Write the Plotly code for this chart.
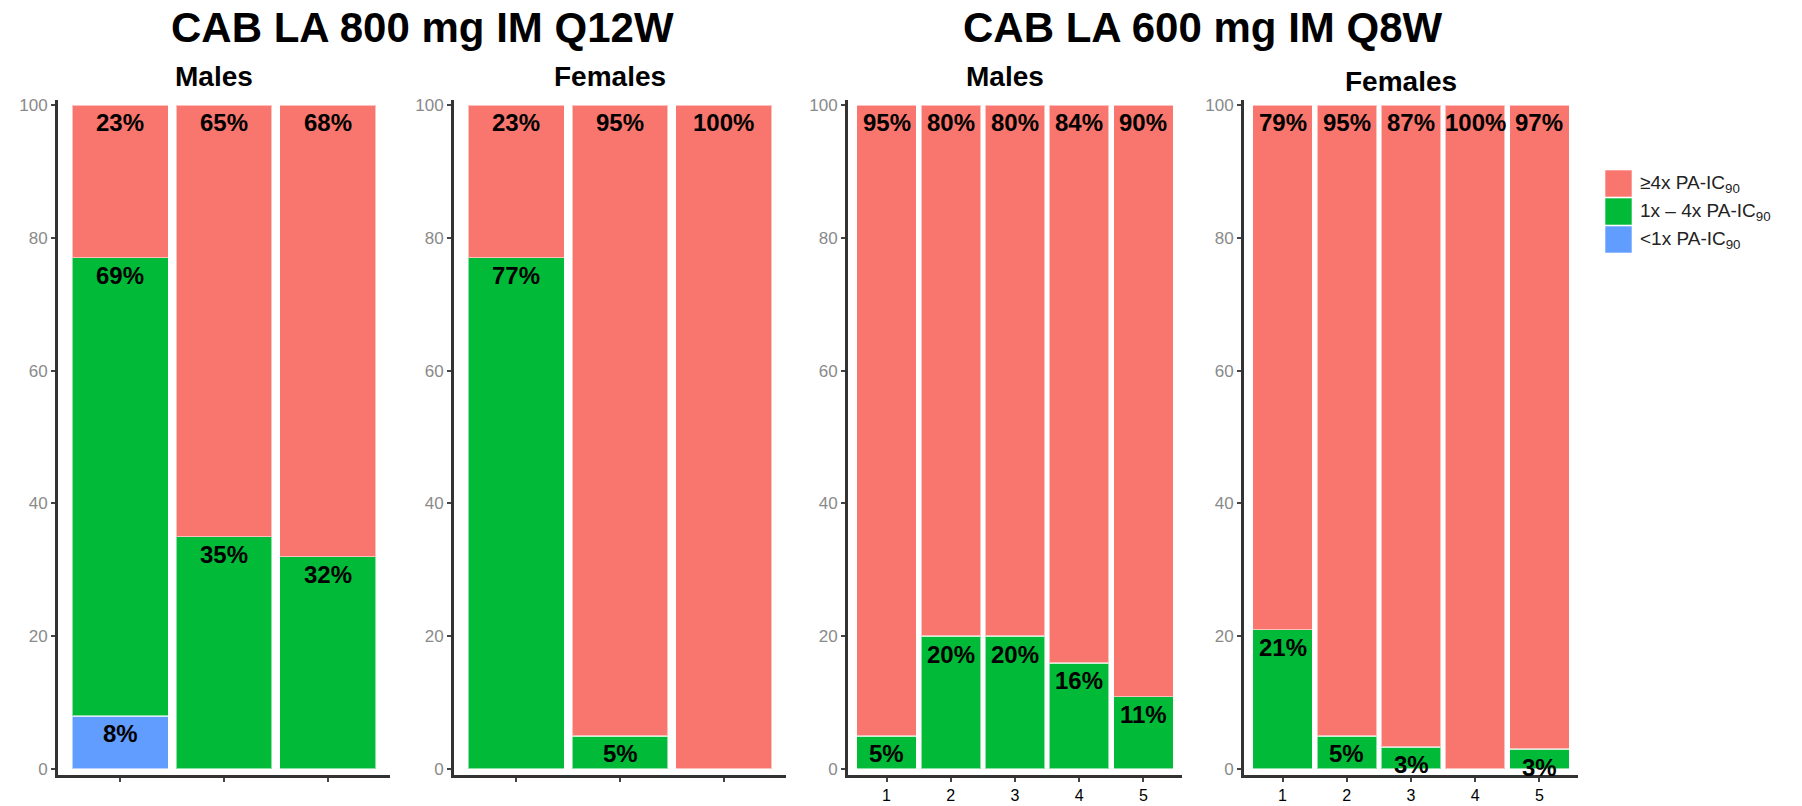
import plotly.graph_objects as go

# ---------------- data ----------------
group_titles = ["CAB LA 800 mg IM Q12W", "CAB LA 600 mg IM Q8W"]
panel_titles = ["Males", "Females", "Males", "Females"]
categories = [[1, 2, 3], [1, 2, 3], [1, 2, 3, 4, 5], [1, 2, 3, 4, 5]]
x_tick_labels = [None, None, ["1", "2", "3", "4", "5"], ["1", "2", "3", "4", "5"]]
y_ticks = [0, 20, 40, 60, 80, 100]

# percentage of participants in each concentration band (stack order bottom -> top)
low_pct = [[8, 0, 0], [0, 0, 0], [0, 0, 0, 0, 0], [0, 0, 0, 0, 0]]
mid_pct = [[69, 35, 32], [77, 5, 0], [5, 20, 20, 16, 11], [21, 5, 3, 0, 3]]
high_pct = [[23, 65, 68], [23, 95, 100], [95, 80, 80, 84, 90], [79, 95, 87, 100, 97]]
series_names = ["&lt;1x PA-IC<sub>90</sub>", "1x – 4x PA-IC<sub>90</sub>", "≥4x PA-IC<sub>90</sub>"]

# ---------------- style ----------------
colors = ["#619CFF", "#00BA38", "#F8766D"]
W, H = 1802, 806
FONT = "Liberation Sans, Arial, sans-serif"
panel_px = [(58, 390), (454, 786), (848, 1182), (1244, 1578)]
y_px = (100, 775)

def px_x(p):
    return p / W

def px_y(p):
    return 1 - p / H

fig = go.Figure()
layout = dict(
    width=W, height=H, margin=dict(l=0, r=0, t=0, b=0),
    paper_bgcolor="white", plot_bgcolor="white",
    barmode="stack", showlegend=False,
    font=dict(family=FONT),
)
annotations = []
shapes = []

series = [low_pct, mid_pct, high_pct]
for p in range(4):
    ax = "" if p == 0 else str(p + 1)
    cats = categories[p]
    n = len(cats)
    totals = [sum(series[s][p][i] for s in range(3)) for i in range(n)]
    cum = [0.0] * n
    for s in range(3):
        vals = series[s][p]
        heights = [vals[i] / totals[i] * 100 for i in range(n)]
        fig.add_trace(go.Bar(
            x=cats, y=[h if h > 0 else None for h in heights],
            xaxis="x" + ax, yaxis="y" + ax,
            width=0.93, name=series_names[s],
            marker=dict(color=colors[s], line=dict(color="rgba(255,255,255,0.55)", width=1.5)),
            hoverinfo="x+y",
        ))
        for i in range(n):
            if vals[i] > 0:
                top = cum[i] + heights[i]
                annotations.append(dict(
                    x=cats[i], y=top, xref="x" + ax, yref="y" + ax,
                    text=f"{vals[i]}%", showarrow=False,
                    yanchor="middle", yshift=-18,
                    font=dict(size=24, color="black", family=FONT, weight="bold"),
                ))
            cum[i] += heights[i]

    x0, x1 = panel_px[p]
    has_labels = x_tick_labels[p] is not None
    layout["xaxis" + ax] = dict(
        domain=[px_x(x0), px_x(x1)], range=[0.4, n + 0.6], anchor="y" + ax,
        tickmode="array", tickvals=cats,
        ticktext=x_tick_labels[p] if has_labels else None,
        showticklabels=has_labels,
        showline=True, linecolor="#333333", linewidth=3,
        ticks="outside", ticklen=4, tickwidth=2, tickcolor="#444444",
        tickfont=dict(size=16, color="black", family=FONT),
        ticklabelstandoff=0,
        showgrid=False, zeroline=False, fixedrange=True, automargin=False,
    )
    layout["yaxis" + ax] = dict(
        domain=[px_y(y_px[1]), px_y(y_px[0])], range=[-0.9, 100.75], anchor="x" + ax,
        tickmode="array", tickvals=y_ticks,
        showline=True, linecolor="#333333", linewidth=3,
        ticks="outside", ticklen=4, tickwidth=2, tickcolor="#444444",
        tickfont=dict(size=17, color="#8a8a8a", family=FONT),
        showgrid=False, zeroline=False, fixedrange=True, automargin=False,
    )
    sub_y = 76 if p < 3 else 81
    annotations.append(dict(
        x=0.47, y=px_y(sub_y), xref="x" + ax + " domain", yref="paper",
        text=panel_titles[p], showarrow=False, xanchor="center", yanchor="middle",
        font=dict(size=28, color="black", family=FONT, weight="bold"),
    ))

# group titles
for g in range(2):
    left = panel_px[2 * g][0]
    right = panel_px[2 * g + 1][1]
    annotations.append(dict(
        x=px_x((left + right) / 2 - (0 if g == 0 else 10)), y=px_y(28), xref="paper", yref="paper",
        text=group_titles[g], showarrow=False, xanchor="center", yanchor="middle",
        font=dict(size=42, color="black", family=FONT, weight="bold"),
    ))

# legend (drawn manually: top item = highest band)
key_x0, key_x1 = 1605, 1632
key_rows = [(170, 197), (198, 225), (226, 253)]
for row, s in enumerate([2, 1, 0]):
    y0, y1 = key_rows[row]
    shapes.append(dict(
        type="rect", xref="paper", yref="paper",
        x0=px_x(key_x0), x1=px_x(key_x1), y0=px_y(y1), y1=px_y(y0),
        fillcolor=colors[s], line=dict(color="rgba(255,255,255,0.6)", width=1),
    ))
    annotations.append(dict(
        x=px_x(1638), y=px_y((y0 + y1) / 2), xref="paper", yref="paper",
        text=series_names[s], showarrow=False, xanchor="left", yanchor="middle",
        font=dict(size=19, color="#222222", family=FONT),
    ))

layout["annotations"] = annotations
layout["shapes"] = shapes
fig.update_layout(**layout)
fig.write_html("out.html")
